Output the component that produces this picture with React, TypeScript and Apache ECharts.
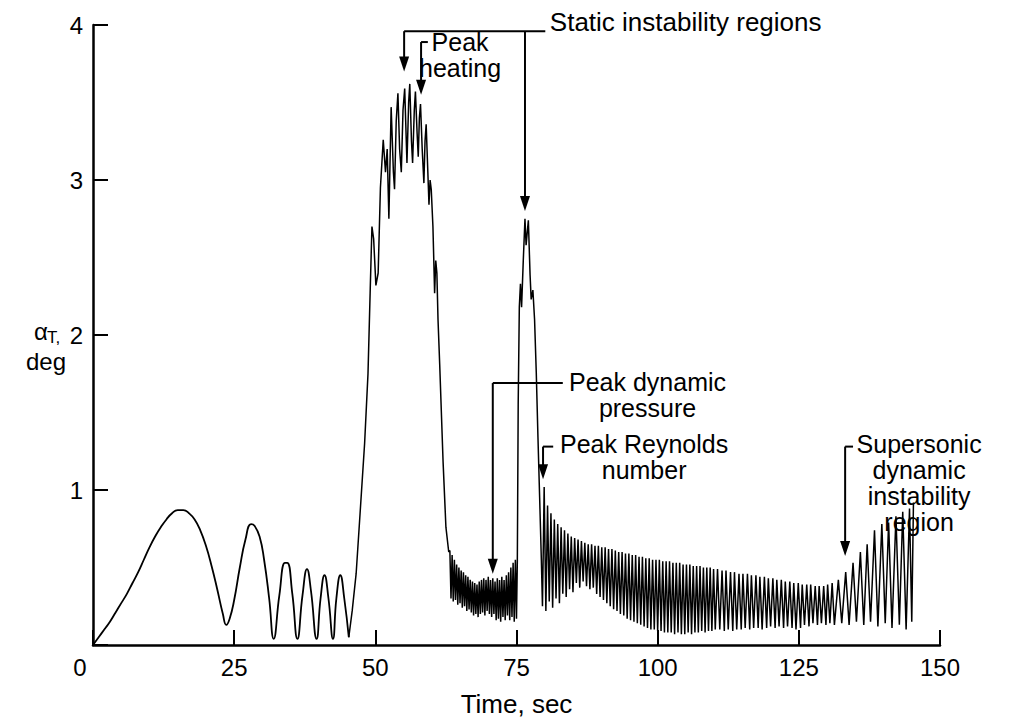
import React, { useEffect, useRef } from "react";
import * as echarts from "echarts";

// ---- axis ticks ----
const xTickValues = [0, 25, 50, 75, 100, 125, 150];
const yTickValues = [0, 1, 2, 3, 4];

// ---- alpha_T (deg) vs time (sec) ----
const launchPhase: [number, number][] = [
  [0, 0], [1, 0.05], [2, 0.1], [3, 0.15], [4, 0.21], [5, 0.27], [6, 0.33], [7, 0.4],
  [8, 0.47], [9, 0.55], [10, 0.63], [11, 0.7], [12, 0.76], [13, 0.81], [14, 0.85],
  [15, 0.87], [16, 0.87], [17, 0.85], [18, 0.81], [19, 0.74], [20, 0.64], [21, 0.51],
  [22, 0.36], [23, 0.2], [23.6, 0.13], [24.2, 0.17], [25, 0.29], [26, 0.5], [27, 0.68],
  [28, 0.78], [28.6, 0.77], [29.5, 0.7], [30.3, 0.55], [31.2, 0.3], [32, 0.04],
  [33, 0.32], [34, 0.53], [34.4, 0.53], [35.3, 0.33], [36.2, 0.04], [37.1, 0.32],
  [37.9, 0.49], [38.6, 0.35], [39.6, 0.04], [40.3, 0.3], [41.0, 0.45], [41.7, 0.3],
  [42.5, 0.04], [43.1, 0.3], [43.8, 0.45], [44.5, 0.3], [45.3, 0.05],
];

const firstPeak: [number, number][] = [
  [45.3, 0.05], [45.9, 0.22], [46.6, 0.46], [47.3, 0.85], [48.1, 1.3], [48.7, 1.75],
  [49.1, 2.3], [49.4, 2.7], [49.7, 2.62], [50.1, 2.32], [50.5, 2.4], [50.9, 2.95],
  [51.4, 3.26], [51.8, 3.05], [52.1, 3.2], [52.4, 2.75], [52.8, 3.47], [53.2, 3.05],
  [53.4, 2.94], [53.7, 3.38], [54.0, 3.56], [54.3, 3.2], [54.6, 3.05], [54.9, 3.45],
  [55.2, 3.59], [55.6, 3.11], [55.9, 3.5], [56.1, 3.62], [56.4, 3.25], [56.6, 3.11],
  [56.9, 3.45], [57.1, 3.57], [57.4, 3.3], [57.6, 3.15], [57.8, 3.4], [58.0, 3.49],
  [58.3, 3.2], [58.6, 2.98], [58.8, 3.25], [59.0, 3.36], [59.3, 3.05], [59.5, 2.84],
  [59.7, 3.0], [59.9, 2.94], [60.2, 2.7], [60.5, 2.27], [60.7, 2.48], [60.9, 2.4],
  [61.1, 2.1], [61.4, 1.81], [62.0, 1.18], [62.5, 0.76], [63.0, 0.6],
];

const plateau: [number, number][] = [
  [63.2, 0.61], [63.4, 0.3], [63.6, 0.58], [63.8, 0.28], [64.0, 0.55], [64.2, 0.29],
  [64.4, 0.52], [64.6, 0.26], [64.8, 0.5], [65.0, 0.27], [65.2, 0.48], [65.4, 0.24],
  [65.6, 0.47], [65.8, 0.25], [66.0, 0.45], [66.2, 0.22], [66.4, 0.44], [66.6, 0.23],
  [66.8, 0.42], [67.0, 0.21], [67.2, 0.41], [67.4, 0.19], [67.6, 0.4], [67.8, 0.2],
  [68.0, 0.39], [68.2, 0.18], [68.4, 0.41], [68.6, 0.2], [68.8, 0.42], [69.0, 0.21],
  [69.2, 0.43], [69.4, 0.19], [69.6, 0.42], [69.8, 0.22], [70.0, 0.44], [70.2, 0.2],
  [70.4, 0.42], [70.6, 0.18], [70.8, 0.43], [71.0, 0.2], [71.2, 0.41], [71.4, 0.16],
  [71.6, 0.43], [71.8, 0.17], [72.0, 0.42], [72.2, 0.15], [72.4, 0.44], [72.6, 0.18],
  [72.8, 0.42], [73.0, 0.16], [73.2, 0.45], [73.4, 0.19], [73.6, 0.47], [73.8, 0.16],
  [74.0, 0.5], [74.2, 0.18], [74.4, 0.53], [74.6, 0.15], [74.8, 0.55], [75.0, 0.17],
];

const secondPeak: [number, number][] = [
  [75.15, 0.55], [75.3, 1.55], [75.5, 2.18], [75.7, 2.33], [75.9, 2.18], [76.2, 2.48],
  [76.5, 2.75], [76.7, 2.58], [76.8, 2.62], [77.1, 2.74], [77.4, 2.39], [77.6, 2.23],
  [77.9, 2.29], [78.2, 2.1], [78.5, 1.76], [78.8, 1.34], [79.1, 0.95], [79.4, 0.55],
  [79.6, 0.25],
];

const decayPhase: [number, number][] = [
  [79.9, 1.02], [80.2, 0.22], [80.5, 0.9], [80.8, 0.28], [81.1, 0.85], [81.4, 0.24],
  [81.7, 0.81], [82.0, 0.3], [82.3, 0.78], [82.6, 0.27], [82.9, 0.76], [83.2, 0.33],
  [83.5, 0.74], [83.8, 0.31], [84.1, 0.72], [84.4, 0.36], [84.7, 0.7], [85.0, 0.34],
  [85.3, 0.69], [85.6, 0.4], [85.9, 0.68], [86.2, 0.37], [86.5, 0.67], [86.8, 0.41],
  [87.1, 0.66], [87.4, 0.38], [87.7, 0.65], [88.0, 0.36], [88.3, 0.65], [88.6, 0.37],
  [88.9, 0.64], [89.2, 0.33], [89.5, 0.64], [89.8, 0.31], [90.1, 0.63], [90.4, 0.29],
  [90.7, 0.63], [91.0, 0.27], [91.3, 0.62], [91.6, 0.25], [91.9, 0.62], [92.2, 0.23],
  [92.5, 0.61], [92.8, 0.22], [93.1, 0.6], [93.4, 0.2], [93.7, 0.6], [94.0, 0.19],
  [94.3, 0.59], [94.6, 0.17], [94.9, 0.59], [95.2, 0.16], [95.5, 0.58], [95.8, 0.15],
  [96.1, 0.58], [96.4, 0.14], [96.7, 0.57], [97.0, 0.13], [97.3, 0.57], [97.6, 0.12],
  [97.9, 0.56], [98.2, 0.11], [98.5, 0.56], [98.8, 0.1], [99.1, 0.55], [99.4, 0.1],
  [99.7, 0.55], [100.0, 0.09], [100.3, 0.55], [100.6, 0.09], [100.9, 0.54], [101.2, 0.08],
  [101.5, 0.54], [101.8, 0.08], [102.1, 0.54], [102.4, 0.08], [102.7, 0.53], [103.0, 0.07],
  [103.3, 0.53], [103.6, 0.08], [103.9, 0.53], [104.2, 0.07], [104.5, 0.52], [104.8, 0.07],
  [105.1, 0.52], [105.4, 0.08], [105.7, 0.52], [106.0, 0.07], [106.3, 0.51], [106.6, 0.08],
  [106.9, 0.51], [107.2, 0.08], [107.5, 0.51], [107.8, 0.09], [108.1, 0.5], [108.4, 0.08],
  [108.7, 0.5], [109.0, 0.09], [109.3, 0.5], [109.6, 0.09], [109.9, 0.49], [110.2, 0.1],
];

const lateDecay: [number, number][] = [
  [110.6, 0.49], [111.0, 0.1], [111.4, 0.48], [111.8, 0.09], [112.1, 0.48], [112.5, 0.1],
  [112.9, 0.47], [113.3, 0.09], [113.6, 0.47], [114.0, 0.1], [114.4, 0.46], [114.8, 0.1],
  [115.1, 0.46], [115.5, 0.11], [115.9, 0.46], [116.3, 0.1], [116.6, 0.45], [117.0, 0.11],
  [117.4, 0.45], [117.8, 0.11], [118.1, 0.44], [118.5, 0.1], [118.9, 0.44], [119.3, 0.11],
  [119.6, 0.43], [120.0, 0.12], [120.4, 0.43], [120.8, 0.11], [121.1, 0.42], [121.5, 0.12],
  [121.9, 0.42], [122.3, 0.11], [122.6, 0.41], [123.0, 0.12], [123.4, 0.41], [123.8, 0.11],
  [124.1, 0.4], [124.5, 0.1], [124.9, 0.4], [125.3, 0.11], [125.6, 0.39], [126.0, 0.13],
  [126.4, 0.39], [126.8, 0.12], [127.1, 0.39], [127.5, 0.14], [127.9, 0.38], [128.3, 0.13],
  [128.6, 0.38], [129.0, 0.14], [129.4, 0.38], [129.8, 0.13], [130.1, 0.39], [130.5, 0.14],
  [130.9, 0.4], [131.3, 0.13],
];

const growthPhase: [number, number][] = [
  [132.0, 0.42], [132.6, 0.14], [133.3, 0.47], [133.9, 0.13], [134.6, 0.53], [135.2, 0.15],
  [135.9, 0.6], [136.5, 0.13], [137.1, 0.65], [137.7, 0.15], [138.4, 0.74], [139.0, 0.12],
  [139.7, 0.78], [140.3, 0.14], [140.9, 0.79], [141.5, 0.11], [142.2, 0.83], [142.8, 0.13],
  [143.4, 0.86], [144.0, 0.1], [144.6, 0.88], [145.0, 0.15], [145.3, 0.92],
];

const FONT = '"Liberation Sans", Arial, Helvetica, sans-serif';
const FS = 24; // tick labels
const AFS = 25; // multi-line annotations
const LH = 26; // annotation line height

export default function App() {
  const ref = useRef<HTMLDivElement>(null);

  useEffect(() => {
    if (!ref.current) return;
    const chart = echarts.init(ref.current, null, { renderer: "svg" });
    const rest = [
      ...firstPeak,
      ...plateau,
      ...secondPeak,
      ...decayPhase,
      ...lateDecay,
      ...growthPhase,
    ];
    chart.setOption({
      animation: false,
      backgroundColor: "#fff",
      grid: { left: 93, right: 70, top: 25, bottom: 64 },
      xAxis: {
        type: "value",
        min: xTickValues[0],
        max: xTickValues[xTickValues.length - 1],
        interval: 25,
        axisLine: { lineStyle: { color: "#000", width: 2.5 } },
        axisTick: { inside: true, length: 15, lineStyle: { color: "#000", width: 2 } },
        splitLine: { show: false },
        axisLabel: {
          color: "#000",
          fontSize: FS,
          fontFamily: FONT,
          margin: 10,
          formatter: (v: number) => (v === 0 ? "{z|0}" : String(v)),
          rich: { z: { fontSize: FS, fontFamily: FONT, color: "#000", padding: [0, 26, 0, 0] } },
        },
        name: "Time, sec",
        nameLocation: "middle",
        nameGap: 46,
        nameTextStyle: { color: "#000", fontSize: 26, fontFamily: FONT },
      },
      yAxis: {
        type: "value",
        min: yTickValues[0],
        max: yTickValues[yTickValues.length - 1],
        interval: 1,
        axisLine: { show: true, lineStyle: { color: "#000", width: 2.5 } },
        axisTick: { show: true, inside: true, length: 15, lineStyle: { color: "#000", width: 2 } },
        splitLine: { show: false },
        axisLabel: {
          color: "#000",
          fontSize: FS,
          fontFamily: FONT,
          margin: 10,
          formatter: (v: number) => (v === 0 ? "" : String(v)),
        },
      },
      series: [
        {
          type: "line",
          data: launchPhase,
          smooth: 0.5,
          showSymbol: false,
          lineStyle: { color: "#000", width: 1.8 },
        },
        {
          type: "line",
          data: rest,
          showSymbol: false,
          lineStyle: { color: "#000", width: 1.5 },
        },
      ],
    });

    const P = (t: number, v: number) =>
      chart.convertToPixel({ gridIndex: 0 }, [t, v]) as number[];
    const g: any[] = [];
    const seg = (a: number[], b: number[]) =>
      g.push({
        type: "line",
        shape: { x1: a[0], y1: a[1], x2: b[0], y2: b[1] },
        style: { stroke: "#000", lineWidth: 2 },
      });
    const head = (tip: number[]) =>
      g.push({
        type: "polygon",
        shape: { points: [[tip[0], tip[1]], [tip[0] - 5, tip[1] - 15], [tip[0] + 5, tip[1] - 15]] },
        style: { fill: "#000" },
      });
    // text anchored at its first line's vertical middle
    const txt = (x: number, y: number, text: string, align: string, size = AFS) =>
      g.push({
        type: "text",
        x,
        y: y - (text.includes("\n") ? LH : size) / 2,
        style: {
          text,
          fill: "#000",
          font: `${size}px ${FONT}`,
          lineHeight: text.includes("\n") ? LH : size,
          align,
          textAlign: align,
          verticalAlign: "top",
          textVerticalAlign: "top",
        },
      });
    const txtAt = (p: number[], text: string, align: string, size = AFS) =>
      txt(p[0], p[1], text, align, size);
    // arrow: from elbow (top) down to tip, plus a horizontal stub
    const arrow = (tip: [number, number], topV: number, stubT: number) => {
      const tipP = P(tip[0], tip[1]);
      const topP = P(tip[0], topV);
      const stubP = P(stubT, topV);
      seg(topP, [tipP[0], tipP[1] - 6]);
      seg(topP, stubP);
      head(tipP);
    };

    // Static instability regions
    arrow([55.1, 3.7], 3.96, 80.1);
    arrow([76.5, 2.8], 3.96, 76.5);
    txtAt(P(80.9, 4.02), "Static instability regions", "left", 26);
    // Peak heating
    arrow([58.1, 3.55], 3.89, 59.3);
    txtAt(P(65.0, 3.89), "Peak\nheating", "center");
    // Peak dynamic pressure
    arrow([70.8, 0.46], 1.69, 83.2);
    txtAt(P(98.2, 1.7), "Peak dynamic\npressure", "center");
    // Peak Reynolds number
    arrow([79.7, 1.07], 1.28, 81.5);
    txtAt(P(97.6, 1.295), "Peak Reynolds\nnumber", "center");
    // Supersonic dynamic instability region
    arrow([133.2, 0.575], 1.28, 134.6);
    txtAt(P(146.3, 1.295), "Supersonic\ndynamic\ninstability\nregion", "center");

    // y axis title: alpha_T, deg
    txt(34, 331, "α", "left", FS);
    txt(47, 337, "T,", "left", 17);
    txt(46, 361, "deg", "center", FS);

    chart.setOption({ graphic: g });
    return () => chart.dispose();
  }, []);

  return (
    <div
      ref={ref}
      style={{ position: "absolute", left: 0, top: 0, width: 1010, height: 722 }}
    />
  );
}
